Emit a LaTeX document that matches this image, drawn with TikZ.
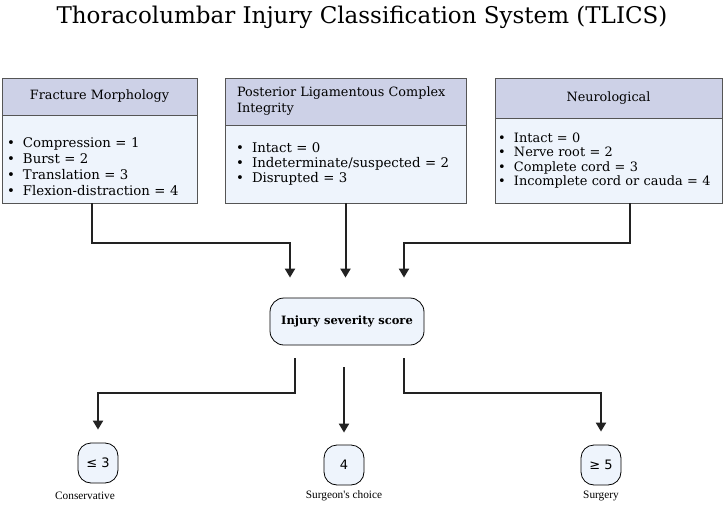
\documentclass[tikz,border=0pt]{standalone}
\usepackage{fontspec}
\setmainfont{DejaVu Serif}
\newfontfamily\labfont{Liberation Serif}
\newfontfamily\symfont{DejaVu Sans}
\usepackage{xcolor}
\usetikzlibrary{arrows.meta}
\definecolor{hdrfill}{HTML}{CDD1E7}
\definecolor{bodyfill}{HTML}{EEF4FC}
\definecolor{boxline}{HTML}{555555}
\definecolor{arrline}{HTML}{222222}
\newcommand{\itm}[1]{\makebox[16pt][l]{\textbullet}#1}

\tikzset{
  hdr/.style={draw=boxline, fill=hdrfill, thick, inner sep=0pt, font=\fontsize{12.8}{16}\selectfont},
  bodybox/.style={draw=boxline, fill=bodyfill, thick, inner xsep=5pt, inner ysep=0pt, align=left,
    font=\fontsize{13.3}{15}\selectfont},
  scorebox/.style={draw=black, fill=bodyfill, thick, rounded corners=14pt, minimum width=154, minimum height=47,
    font=\bfseries\fontsize{11.5}{13}\selectfont},
  outbox/.style={draw=black, fill=bodyfill, thick, rounded corners=13pt, minimum width=40, minimum height=40,
    inner sep=0pt, font=\symfont\fontsize{13}{15}\selectfont},
  outlabel/.style={font=\labfont\fontsize{11.3}{13}\selectfont},
  arr/.style={draw=arrline, line width=2pt, -{Triangle[width=10pt,length=9pt]}}
}

\begin{document}
\begin{tikzpicture}[x=1pt,y=-1pt]
\useasboundingbox (0,0) rectangle (724,509);

% title
\node (title) at (362,17) {\fontsize{23}{26}\selectfont Thoracolumbar Injury Classification System (TLICS)};

% three criteria boxes
\node[hdr, minimum width=195, minimum height=37] (fmh) at (99.5,96.5) {Fracture Morphology};
\node[bodybox, minimum width=195, text width=185, minimum height=88] (fmb) at (99.5,159)
  {\rule{0pt}{26pt}\itm{Compression = 1}\\[1pt] \itm{Burst = 2}\\[1pt] \itm{Translation = 3}\\[1pt] \itm{Flexion-distraction = 4}};

\node[hdr, minimum width=241, minimum height=47, text width=217, align=left] (plch) at (345.5,101.5)
  {Posterior Ligamentous Complex\\Integrity};
\node[bodybox, inner xsep=11pt, minimum width=241, text width=219, minimum height=78] (plcb) at (345.5,164)
  {\itm{Intact = 0}\\ \itm{Indeterminate/suspected = 2}\\ \itm{Disrupted = 3}};

\node[hdr, minimum width=227, minimum height=40] (neuh) at (608.5,98) {Neurological};
\node[bodybox, inner xsep=3pt, minimum width=227, text width=221, minimum height=85,
  font=\fontsize{12.9}{14.5}\selectfont] (neub) at (608.5,160.5)
  {\itm{Intact = 0}\\ \itm{Nerve root = 2}\\ \itm{Complete cord = 3}\\ \itm{Incomplete cord or cauda = 4}};

% score
\node[scorebox] (iss) at (347,321.5) {Injury severity score};

% outcomes
\node[outbox] (cons) at (98,463) {≤ 3};
\node[outbox] (surch) at (344,465) {4};
\node[outbox] (surg) at (601,465) {≥ 5};
\node[outlabel] (consl) at (85,496) {Conservative};
\node[outlabel] (surchl) at (344,496) {Surgeon's choice};
\node[outlabel] (surgl) at (601,496) {Surgery};

% connectors into the score
\draw[arr] ([xshift=-7.5]fmb.south) |- ++(0,40) -| ([xshift=-57,yshift=20]iss.north);
\draw[arr] (plcb.south) -- ([yshift=20]plcb.south |- iss.north);
\draw[arr] ([xshift=21.5]neub.south) |- ++(0,40) -| ([xshift=57,yshift=20]iss.north);

% connectors out of the score
\draw[arr] ([xshift=-52,yshift=-13]iss.south) -- ++(0,35) -| ([yshift=13]cons.north);
\draw[arr] ([xshift=-3,yshift=-22]iss.south) -- ([yshift=12]surch.north);
\draw[arr] ([xshift=57,yshift=-13]iss.south) -- ++(0,35) -| ([yshift=13]surg.north);
\end{tikzpicture}
\end{document}
